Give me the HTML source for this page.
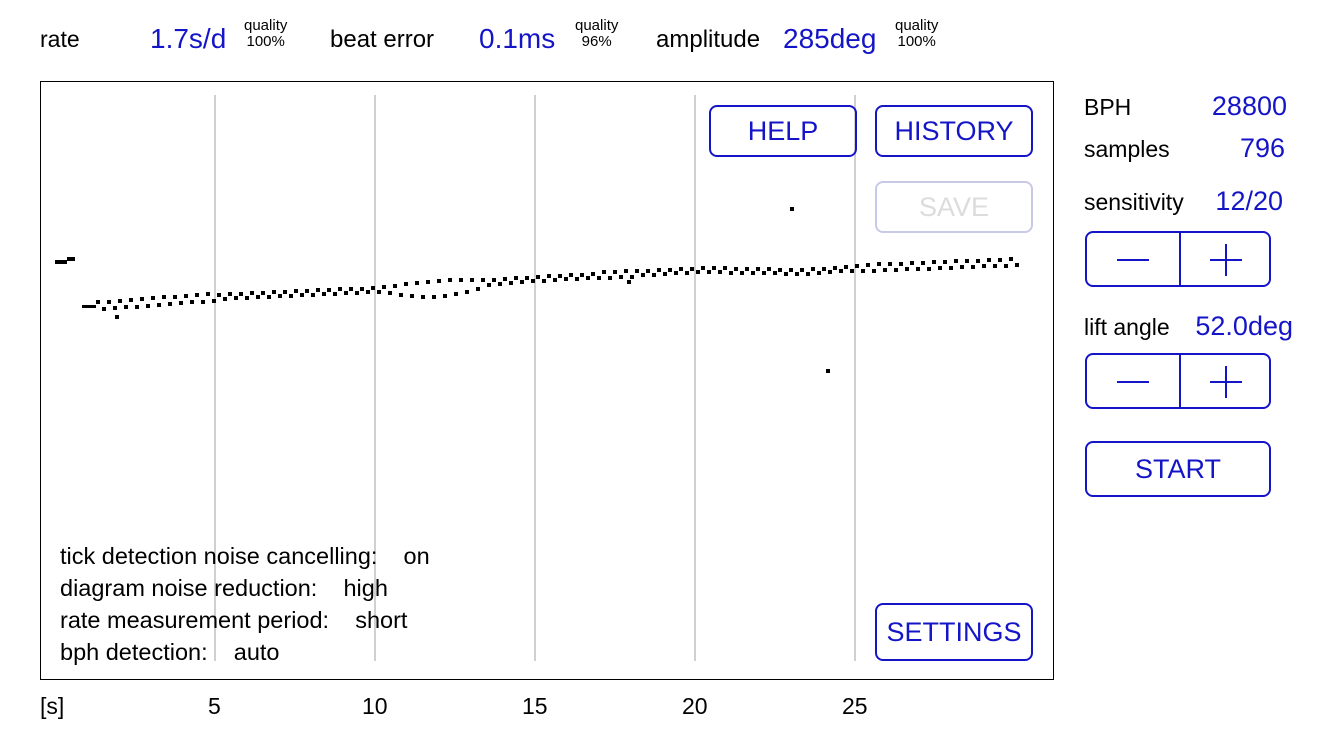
<!DOCTYPE html>
<html><head><meta charset="utf-8"><style>
body{margin:0;width:1334px;height:750px;background:#fff;font-family:"Liberation Sans",sans-serif;position:relative;overflow:hidden}
.t{position:absolute;white-space:nowrap;color:#000}
.r{position:absolute;white-space:nowrap;color:#1515c8;font-size:27px;text-align:right}
.b{color:#1515c8}
.q{font-size:15px;text-align:center;line-height:16px}
.btn{position:absolute;border:2px solid #1515c8;border-radius:8px;box-sizing:border-box;color:#1515c8;font-size:27px;display:flex;align-items:center;justify-content:center}
</style></head><body>
<div class="t" style="left:40px;top:26px;font-size:23px">rate</div>
<div class="t b" style="left:150px;top:23px;font-size:28px">1.7s/d</div>
<div class="t q" style="left:244px;top:18px">quality<br>100%</div>
<div class="t" style="left:330px;top:26px;font-size:24px">beat error</div>
<div class="t b" style="left:479px;top:23px;font-size:28px">0.1ms</div>
<div class="t q" style="left:575px;top:18px">quality<br>96%</div>
<div class="t" style="left:656px;top:26px;font-size:24px">amplitude</div>
<div class="t b" style="left:783px;top:23px;font-size:28px">285deg</div>
<div class="t q" style="left:895px;top:18px">quality<br>100%</div>

<svg style="position:absolute;left:0;top:0" width="1334" height="750">
<rect x="40.5" y="81.5" width="1013" height="598" fill="none" stroke="#000" stroke-width="1"/>
<g stroke="#d0d0d0" stroke-width="2">
<line x1="215" y1="95" x2="215" y2="661"/><line x1="375" y1="95" x2="375" y2="661"/>
<line x1="535" y1="95" x2="535" y2="661"/><line x1="695" y1="95" x2="695" y2="661"/>
<line x1="855" y1="95" x2="855" y2="661"/></g>
<g id="pts" fill="#000">
<rect x="55" y="260" width="12" height="4"/><rect x="67" y="257" width="8" height="4"/>
<rect x="790" y="207" width="4" height="4"/><rect x="826" y="369" width="4" height="4"/>
<rect x="115" y="315" width="4" height="4"/><rect x="627" y="280" width="4" height="4"/>
<rect x="82" y="305" width="14" height="3"/>
</g>
</svg>
<script>
var g=document.getElementById('pts');
var P=[[82,307],[215,297],[300,293],[375,290],[535,279],[700,270],[800,272],[860,268],[1020,262]];
function base(x){for(var k=0;k<P.length-1;k++){if(x<=P[k+1][0]){var a=P[k],b=P[k+1];return a[1]+(b[1]-a[1])*(x-a[0])/(b[0]-a[0]);}}return 262;}
var s='';var i=0;
for(var x=96;x<=1018;x+=5.5){var d=2;
if(x<215)d=3.5;if(x>600&&x<640)d=3;if(x>860)d=3;
var y=base(x)+((i%2)?d:-d);
if(x>380&&x<490){var h=Math.sin((x-380)/110*Math.PI);y=base(x)+((i%2)?(2+9*h):(-2-3*h));}
s+='<rect x="'+Math.round(x)+'" y="'+Math.round(y-2)+'" width="4" height="4"/>';i++;}
g.innerHTML+=s;
</script>

<div class="btn" style="left:709px;top:105px;width:148px;height:52px">HELP</div>
<div class="btn" style="left:875px;top:105px;width:158px;height:52px">HISTORY</div>
<div class="btn" style="left:875px;top:181px;width:158px;height:52px;border-color:#c8c8e8;color:#dcdcdc">SAVE</div>
<div class="btn" style="left:875px;top:603px;width:158px;height:58px">SETTINGS</div>

<div class="t" style="left:60px;top:540px;font-size:23.5px;line-height:32px">tick detection noise cancelling:&nbsp;&nbsp;&nbsp; on<br>diagram noise reduction:&nbsp;&nbsp;&nbsp; high<br>rate measurement period:&nbsp;&nbsp;&nbsp; short<br>bph detection:&nbsp;&nbsp;&nbsp; auto</div>

<div class="t" style="left:40px;top:693px;font-size:23px">[s]</div>
<div class="t" style="left:208px;top:693px;font-size:23px">5</div>
<div class="t" style="left:362px;top:693px;font-size:23px">10</div>
<div class="t" style="left:522px;top:693px;font-size:23px">15</div>
<div class="t" style="left:682px;top:693px;font-size:23px">20</div>
<div class="t" style="left:842px;top:693px;font-size:23px">25</div>

<div class="t" style="left:1084px;top:94px;font-size:23px">BPH</div>
<div class="r" style="right:47px;top:91px">28800</div>
<div class="t" style="left:1084px;top:136px;font-size:23px">samples</div>
<div class="r" style="right:49px;top:133px">796</div>
<div class="t" style="left:1084px;top:189px;font-size:23px">sensitivity</div>
<div class="r" style="right:51px;top:186px">12/20</div>
<div class="btn" style="left:1085px;top:231px;width:186px;height:56px"><div style="position:absolute;left:92px;top:0;width:2px;height:100%;background:#1515c8"></div><div style="position:absolute;left:30px;top:26px;width:32px;height:2px;background:#1515c8"></div><div style="position:absolute;left:123px;top:26px;width:32px;height:2px;background:#1515c8"></div><div style="position:absolute;left:138px;top:11px;width:2px;height:32px;background:#1515c8"></div></div>
<div class="t" style="left:1084px;top:314px;font-size:23px">lift angle</div>
<div class="r" style="right:41px;top:311px">52.0deg</div>
<div class="btn" style="left:1085px;top:353px;width:186px;height:56px"><div style="position:absolute;left:92px;top:0;width:2px;height:100%;background:#1515c8"></div><div style="position:absolute;left:30px;top:26px;width:32px;height:2px;background:#1515c8"></div><div style="position:absolute;left:123px;top:26px;width:32px;height:2px;background:#1515c8"></div><div style="position:absolute;left:138px;top:11px;width:2px;height:32px;background:#1515c8"></div></div>
<div class="btn" style="left:1085px;top:441px;width:186px;height:56px">START</div>
</body></html>
